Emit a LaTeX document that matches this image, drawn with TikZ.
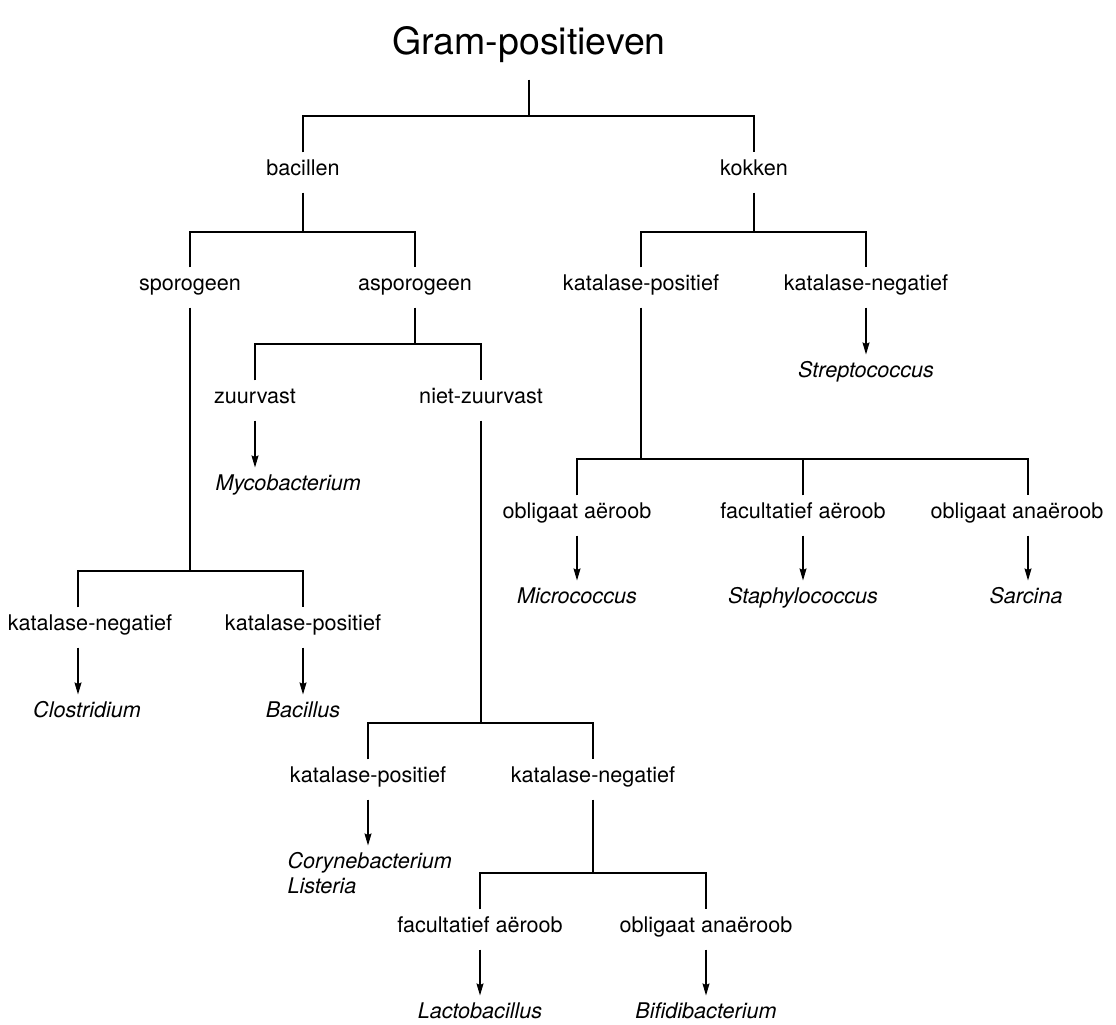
\documentclass[tikz,border=0pt]{standalone}
\usepackage{fontspec}
\setmainfont{TeX Gyre Heros}
\usetikzlibrary{arrows.meta}

\begin{document}
\begin{tikzpicture}[x=1pt,y=-1pt,line width=1.1pt,
        lbl/.style={anchor=base,inner xsep=0pt,inner ysep=6pt,text height=16pt,text depth=11pt,
            font=\fontsize{21.6pt}{26pt}\selectfont},
        genus/.style={lbl,font=\fontsize{21.6pt}{26pt}\selectfont\itshape},
        arr/.style={-{Stealth[length=12pt,width=7pt,inset=1.5pt]}}]
        \useasboundingbox (0,0) rectangle (1116,1025);

        \node[anchor=base,inner sep=0pt,text depth=24pt,font=\fontsize{37.5pt}{44pt}\selectfont] (gram) at (529,55) {Gram-positieven};

        \node[lbl] (bac) at (303,175) {bacillen};
        \node[lbl] (kok) at (754,175) {kokken};

        \node[lbl] (spor) at (190,290) {sporogeen};
        \node[lbl] (aspo) at (415,290) {asporogeen};
        \node[lbl] (kpos1) at (641,290) {katalase-positief};
        \node[lbl] (kneg1) at (866,290) {katalase-negatief};

        \node[lbl] (zuur) at (255,403) {zuurvast};
        \node[lbl] (nzuur) at (481,403) {niet-zuurvast};
        \node[genus,anchor=base west] (myco) at (215,490) {Mycobacterium};
        \node[genus] (strep) at (866,377) {Streptococcus};

        \node[lbl] (oa1) at (577,518) {obligaat aëroob};
        \node[lbl] (fa1) at (803,518) {facultatief aëroob};
        \node[lbl] (oan1) at (1017,518) {obligaat anaëroob};
        \node[genus] (micro) at (577,603) {Micrococcus};
        \node[genus] (staph) at (803,603) {Staphylococcus};
        \node[genus] (sarc) at (1026,603) {Sarcina};

        \node[lbl] (kneg2) at (90,630) {katalase-negatief};
        \node[lbl] (kpos2) at (303,630) {katalase-positief};
        \node[genus] (clos) at (87,717) {Clostridium};
        \node[genus] (baci) at (303,717) {Bacillus};

        \node[lbl] (kpos3) at (368,782) {katalase-positief};
        \node[lbl] (kneg3) at (593,782) {katalase-negatief};
        \node[genus,anchor=base west] (coryne) at (287,868) {Corynebacterium};
        \node[genus,anchor=base west] (lister) at (287,893) {Listeria};

        \node[lbl] (fa2) at (480,932) {facultatief aëroob};
        \node[lbl] (oan2) at (706,932) {obligaat anaëroob};
        \node[genus] (lacto) at (480,1018) {Lactobacillus};
        \node[genus] (bifi) at (706,1018) {Bifidibacterium};

        \coordinate (j0) at (529,116);
        \coordinate (j1) at (303,232);
        \coordinate (j2) at (754,232);
        \coordinate (j3) at (415,344);
        \coordinate (j4) at (190,571);
        \coordinate (j5) at (641,459);
        \coordinate (j6) at (481,723);
        \coordinate (j7) at (593,873);
        \coordinate (k2n) at ([xshift=-12pt]kneg2.north);
        \coordinate (k2s) at ([xshift=-12pt]kneg2.south);
        \coordinate (o1n) at ([xshift=11pt]oan1.north);
        \coordinate (o1s) at ([xshift=11pt]oan1.south);

        \draw (gram.south) -- (j0);
        \draw (bac.north) |- (j0) -| (kok.north);

        \draw (bac.south) -- (j1);
        \draw (spor.north) |- (j1) -| (aspo.north);
        \draw (kok.south) -- (j2);
        \draw (kpos1.north) |- (j2) -| (kneg1.north);
        \draw[arr] (kneg1.south) -- (strep.north);

        \draw (aspo.south) -- (j3);
        \draw (zuur.north) |- (j3) -| (nzuur.north);
        \draw[arr] (zuur.south) -- (zuur.south |- myco.north);

        \draw (kpos1.south) -- (j5);
        \draw (oa1.north) |- (j5) -| (o1n);
        \draw (fa1.north) -- (fa1.north |- j5);
        \draw[arr] (oa1.south) -- (micro.north);
        \draw[arr] (fa1.south) -- (staph.north);
        \draw[arr] (o1s) -- (o1s |- sarc.north);

        \draw (spor.south) -- (j4);
        \draw (k2n) |- (j4) -| (kpos2.north);
        \draw[arr] (k2s) -- (k2s |- clos.north);
        \draw[arr] (kpos2.south) -- (baci.north);

        \draw (nzuur.south) -- (j6);
        \draw (kpos3.north) |- (j6) -| (kneg3.north);
        \draw[arr] (kpos3.south) -- (kpos3.south |- coryne.north);

        \draw (kneg3.south) -- (j7);
        \draw (fa2.north) |- (j7) -| (oan2.north);
        \draw[arr] (fa2.south) -- (lacto.north);
        \draw[arr] (oan2.south) -- (bifi.north);
\end{tikzpicture}
\end{document}
